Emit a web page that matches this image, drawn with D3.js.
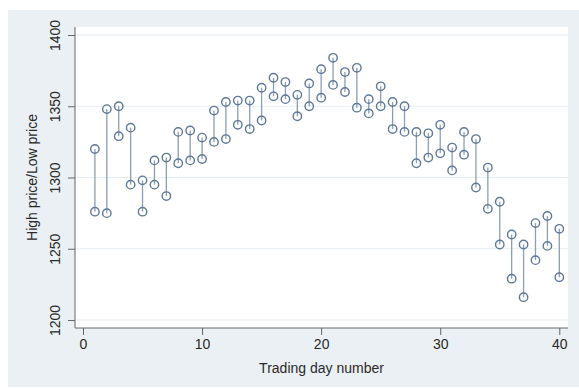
<!DOCTYPE html>
<html>
<head>
<meta charset="utf-8">
<script src="https://cdn.jsdelivr.net/npm/d3@7"></script>
<style>
  body { margin: 0; background: #fff; }
  svg { display: block; font-family: "Liberation Sans", Arial, Helvetica, sans-serif; }
</style>
</head>
<body>
<div id="chart"></div>
<script>
const days = d3.range(1, 41);
const highPrice = [1320, 1348, 1350, 1335, 1298, 1312, 1314, 1332, 1333, 1328,
                   1347, 1353, 1354, 1354, 1363, 1370, 1367, 1358, 1366, 1376,
                   1384, 1374, 1377, 1355, 1364, 1353, 1350, 1332, 1331, 1337,
                   1321, 1332, 1327, 1307, 1283, 1260, 1253, 1268, 1273, 1264];
const lowPrice  = [1276, 1275, 1329, 1295, 1276, 1295, 1287, 1310, 1312, 1313,
                   1325, 1327, 1337, 1334, 1340, 1357, 1355, 1343, 1350, 1356,
                   1365, 1360, 1349, 1345, 1350, 1334, 1332, 1310, 1314, 1317,
                   1305, 1316, 1293, 1278, 1253, 1229, 1216, 1242, 1252, 1230];
const xTicks = [0, 10, 20, 30, 40];
const yTicks = [1200, 1250, 1300, 1350, 1400];

const width = 579, height = 388;
const plot = { left: 75, right: 568, top: 27, bottom: 328 };
const markColor = "#5f7898";
const spikeColor = "#8c9db4";
const inkColor = "#2a2a2a";
const axisColor = "#666";

const svg = d3.select("#chart").append("svg")
    .attr("width", width)
    .attr("height", height);

// outer background and plot region
svg.append("rect")
    .attr("x", 8).attr("y", 10)
    .attr("width", width - 8).attr("height", 377)
    .attr("fill", "#eaf0f3");
svg.append("rect")
    .attr("x", plot.left).attr("y", plot.top)
    .attr("width", plot.right - plot.left).attr("height", plot.bottom - plot.top)
    .attr("fill", "#fff");

const x = d3.scaleLinear().domain([0, 40]).range([83, 559.3]);
const y = d3.scaleLinear().domain([1200, 1400]).range([320, 35]);

// gridlines
svg.append("g")
    .selectAll("line")
    .data(yTicks)
    .enter()
    .append("line")
    .attr("x1", plot.left)
    .attr("x2", plot.right)
    .attr("y1", d => y(d))
    .attr("y2", d => y(d))
    .attr("stroke", "#e6edf2")
    .attr("stroke-width", 1);

// y axis
const yAxis = svg.append("g")
    .attr("transform", `translate(${plot.left},0)`)
    .call(d3.axisLeft(y).tickValues(yTicks).tickSize(7).tickSizeOuter(0).tickFormat(d3.format("d")));
yAxis.select(".domain").remove();
yAxis.append("line")
    .attr("x1", 0).attr("x2", 0)
    .attr("y1", plot.top).attr("y2", plot.bottom)
    .attr("stroke", axisColor);
yAxis.selectAll(".tick line").attr("stroke", axisColor);
yAxis.selectAll(".tick text")
    .attr("x", null).attr("dy", null)
    .attr("transform", "translate(-15,0) rotate(-90)")
    .attr("text-anchor", "middle")
    .attr("fill", inkColor)
    .style("font-size", "14px");

// x axis
const xAxis = svg.append("g")
    .attr("transform", `translate(0,${plot.bottom})`)
    .call(d3.axisBottom(x).tickValues(xTicks).tickSize(7).tickSizeOuter(0));
xAxis.select(".domain").remove();
xAxis.append("line")
    .attr("x1", plot.left).attr("x2", plot.right)
    .attr("y1", 0).attr("y2", 0)
    .attr("stroke", axisColor);
xAxis.selectAll(".tick line").attr("stroke", axisColor);
xAxis.selectAll(".tick text")
    .attr("y", 11)
    .attr("fill", inkColor)
    .style("font-size", "14px");

// axis titles
svg.append("text")
    .attr("x", (plot.left + plot.right) / 2)
    .attr("y", 373)
    .attr("text-anchor", "middle")
    .attr("fill", inkColor)
    .style("font-size", "14px")
    .text("Trading day number");
svg.append("text")
    .attr("transform", `translate(37,${(plot.top + plot.bottom) / 2}) rotate(-90)`)
    .attr("text-anchor", "middle")
    .attr("fill", inkColor)
    .style("font-size", "14px")
    .text("High price/Low price");

// spikes
svg.append("g")
    .selectAll("line")
    .data(days)
    .enter()
    .append("line")
    .attr("x1", (d, i) => x(d))
    .attr("x2", (d, i) => x(d))
    .attr("y1", (d, i) => y(highPrice[i]))
    .attr("y2", (d, i) => y(lowPrice[i]))
    .attr("stroke", spikeColor)
    .attr("stroke-width", 1.3);

// hollow markers at both ends
const ends = days.flatMap((d, i) => [[d, highPrice[i]], [d, lowPrice[i]]]);
svg.append("g")
    .selectAll("circle")
    .data(ends)
    .enter()
    .append("circle")
    .attr("cx", d => x(d[0]))
    .attr("cy", d => y(d[1]))
    .attr("r", 4.2)
    .attr("fill", "none")
    .attr("stroke", markColor)
    .attr("stroke-width", 1.4);
</script>
</body>
</html>
